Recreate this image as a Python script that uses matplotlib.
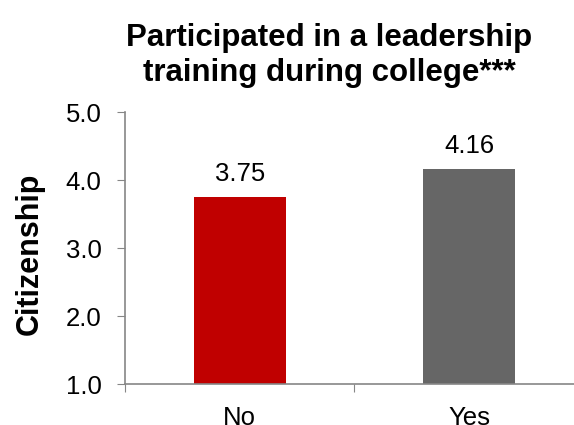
import matplotlib
matplotlib.use("Agg")
import matplotlib.pyplot as plt

categories = ["No", "Yes"]
values = [3.75, 4.16]
bar_colors = ["#C00000", "#666666"]
yticks = [1.0, 2.0, 3.0, 4.0, 5.0]
title = "Participated in a leadership\ntraining during college***"
ylabel = "Citizenship"

plt.rcParams["font.family"] = ["Liberation Sans", "DejaVu Sans"]

fig = plt.figure(figsize=(5.74, 4.25), dpi=100)
ax = fig.add_axes([0.218, 0.096, 0.799, 0.640])

x = range(len(categories))
ax.bar(x, values, width=0.4, color=bar_colors, bottom=0)
for xi, v in zip(x, values):
    ax.annotate(f"{v:.2f}", (xi, v), xytext=(0, 8), textcoords="offset points",
                ha="center", va="bottom", fontsize=18.5)

ax.set_ylim(1.0, 5.0)
ax.set_xlim(-0.5, 1.5)
ax.set_yticks(yticks)
ax.set_yticklabels([f"{t:.1f}" for t in yticks], fontsize=18.5)
ax.set_xticks([-0.5, 0.5, 1.5])
ax.set_xticklabels([])
ax.set_xticks(list(x), minor=True)
ax.set_xticklabels(categories, minor=True, fontsize=18.5)
ax.tick_params(axis="x", which="minor", length=0, pad=16)
ax.tick_params(axis="x", which="major", length=6, color="#868686", direction="out")
ax.tick_params(axis="y", length=6, color="#868686", direction="out", pad=11)

for side in ["top", "right"]:
    ax.spines[side].set_visible(False)
for side in ["left", "bottom"]:
    ax.spines[side].set_color("#868686")
    ax.spines[side].set_linewidth(1.2)

ax.set_ylabel(ylabel, fontsize=22, fontweight="bold")
ax.yaxis.set_label_coords(-0.175, 0.48)
fig.text(0.573, 0.946, title, ha="center", va="top", fontsize=22.5,
         fontweight="bold", linespacing=1.2)

fig.savefig("out.png", dpi=100)
